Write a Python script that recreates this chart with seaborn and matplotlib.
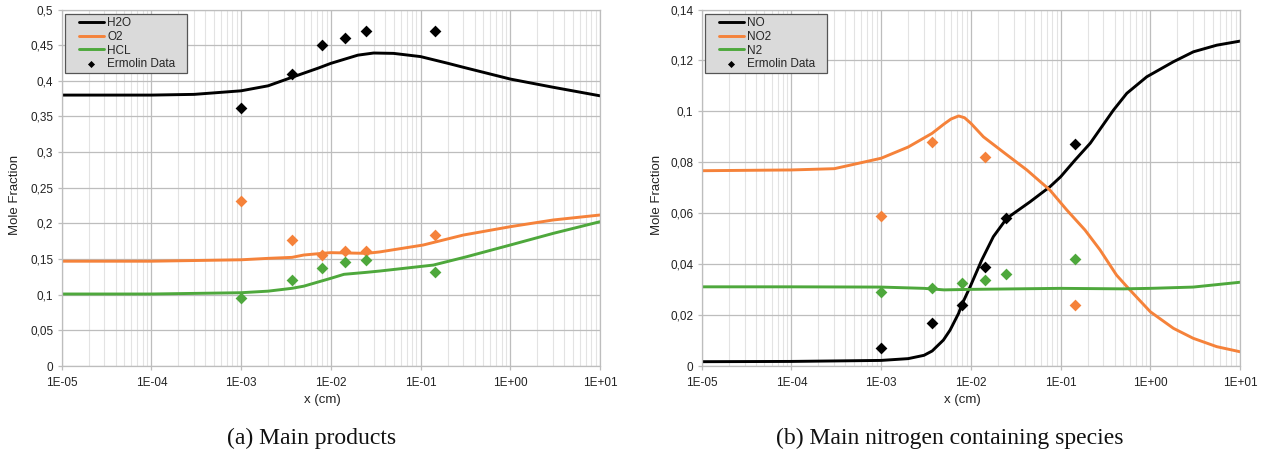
import matplotlib
matplotlib.use("Agg")
import matplotlib.pyplot as plt
import matplotlib.ticker as mticker
from matplotlib.patches import Rectangle
import seaborn as sns

# ---------------- data: panel (a) main products ----------------
x_h2o = [1e-5, 1e-4, 3e-4, 1e-3, 2e-3, 3.7e-3, 7.3e-3, 1e-2, 2e-2, 3e-2, 5e-2, 0.1, 0.2, 0.3, 1, 3, 10]
y_h2o = [0.380, 0.380, 0.381, 0.386, 0.393, 0.405, 0.418, 0.4245, 0.436, 0.439, 0.4385, 0.434, 0.4247, 0.419, 0.4025, 0.391, 0.379]

x_o2 = [1e-5, 1e-4, 1e-3, 2e-3, 3.7e-3, 5e-3, 8e-3, 1e-2, 2.5e-2, 3.5e-2, 0.107, 0.3, 1, 3, 10]
y_o2 = [0.147, 0.147, 0.149, 0.151, 0.1524, 0.1557, 0.158, 0.159, 0.158, 0.160, 0.1697, 0.1837, 0.1954, 0.2048, 0.2118]

x_hcl = [1e-5, 1e-4, 1e-3, 2e-3, 3.7e-3, 5e-3, 1e-2, 1.4e-2, 2.5e-2, 3.5e-2, 0.139, 0.327, 1, 3, 10]
y_hcl = [0.101, 0.101, 0.1028, 0.105, 0.109, 0.112, 0.123, 0.1286, 0.1314, 0.1332, 0.1416, 0.1533, 0.1697, 0.186, 0.2024]

x_exp_a = [1e-3, 3.7e-3, 8e-3, 1.45e-2, 2.45e-2, 0.145]
h2o_exp = [0.362, 0.410, 0.450, 0.460, 0.470, 0.470]
o2_exp = [0.232, 0.177, 0.156, 0.161, 0.161, 0.184]
hcl_exp = [0.096, 0.120, 0.138, 0.146, 0.149, 0.132]

# ---------------- data: panel (b) nitrogen species ----------------
x_no = [1e-5, 1e-4, 1e-3, 2e-3, 3e-3, 3.7e-3, 4.94e-3, 5.86e-3, 7.3e-3, 7.9e-3, 9.8e-3, 1.32e-2, 1.78e-2,
        2.51e-2, 4.57e-2, 7.6e-2, 0.1, 0.145, 0.214, 0.388, 0.547, 0.914, 1.81, 3.02, 5.5, 10]
y_no = [0.0017, 0.0018, 0.0022, 0.0029, 0.0042, 0.0059, 0.0102, 0.0141, 0.0207, 0.024, 0.0311, 0.0416, 0.0508,
        0.058, 0.0645, 0.0704, 0.0743, 0.0809, 0.0875, 0.1005, 0.1071, 0.1136, 0.1195, 0.1234, 0.126, 0.1276]

x_no2 = [1e-5, 1e-4, 3e-4, 1e-3, 2e-3, 3.7e-3, 5e-3, 6e-3, 7.3e-3, 8.5e-3, 1e-2, 1.38e-2, 2.4e-2, 4.2e-2,
         7.6e-2, 0.117, 0.187, 0.275, 0.42, 0.57, 1, 1.81, 3, 5.5, 10]
y_no2 = [0.0767, 0.077, 0.0775, 0.0816, 0.086, 0.0914, 0.095, 0.097, 0.0982, 0.0975, 0.0953, 0.090, 0.0835, 0.077,
         0.0691, 0.0613, 0.0534, 0.0456, 0.0357, 0.0305, 0.0213, 0.0148, 0.0109, 0.0076, 0.0056]

x_n2 = [1e-5, 1e-4, 1e-3, 3e-3, 5e-3, 1e-2, 0.1, 0.5, 1, 3, 10]
y_n2 = [0.0311, 0.0311, 0.031, 0.0305, 0.0299, 0.0301, 0.0305, 0.0303, 0.0305, 0.031, 0.0329]

x_no_exp = [1e-3, 3.7e-3, 8e-3, 1.45e-2, 2.45e-2, 0.145]
no_exp = [0.0071, 0.0168, 0.024, 0.0388, 0.058, 0.0871]
x_no2_exp = [1e-3, 3.7e-3, 1.45e-2, 0.145]
no2_exp = [0.0589, 0.088, 0.082, 0.0238]
x_n2_exp = [1e-3, 3.7e-3, 8e-3, 1.45e-2, 2.45e-2, 0.145]
n2_exp = [0.0289, 0.0305, 0.0325, 0.0337, 0.036, 0.0419]

xticks = [1e-5, 1e-4, 1e-3, 1e-2, 1e-1, 1e0, 1e1]
captions = ["(a) Main products", "(b) Main nitrogen containing species"]

BLACK = "#000000"
ORANGE = "#f5823a"
GREEN = "#4ea83c"

sns.set_theme(style="white")
plt.rcParams["font.family"] = ["Liberation Sans", "DejaVu Sans"]

fig = plt.figure(figsize=(12.66, 4.54), dpi=100)
ax1 = fig.add_axes([0.0487, 0.1938, 0.4252, 0.7852])
ax2 = fig.add_axes([0.5543, 0.1938, 0.4252, 0.7852])

LW = 2.1
MS = 36


def comma_fmt(v, pos):
    s = "{:g}".format(round(v, 6))
    return s.replace(".", ",")


def sci_fmt(v, pos):
    return "{:.0E}".format(v)


def style_axes(ax, ymax, ystep):
    ax.set_xscale("log")
    ax.set_xlim(1e-5, 10)
    ax.set_ylim(0, ymax)
    ax.set_xticks(xticks)
    ax.xaxis.set_major_formatter(mticker.FuncFormatter(sci_fmt))
    ax.xaxis.set_minor_locator(mticker.LogLocator(base=10, subs=range(2, 10), numticks=20))
    ax.xaxis.set_minor_formatter(mticker.NullFormatter())
    ax.yaxis.set_major_locator(mticker.MultipleLocator(ystep))
    ax.yaxis.set_major_formatter(mticker.FuncFormatter(comma_fmt))
    ax.grid(True, which="major", color="#bdbdbd", linewidth=0.9)
    ax.grid(True, which="minor", axis="x", color="#e3e3e3", linewidth=0.8)
    ax.set_axisbelow(True)
    for sp in ax.spines.values():
        sp.set_color("#bdbdbd")
        sp.set_linewidth(0.9)
    ax.tick_params(axis="both", which="major", length=3, width=0.9, color="#bdbdbd",
                   labelsize=8.5, labelcolor="#222222", direction="out")
    ax.tick_params(axis="x", which="major", pad=5, bottom=True)
    ax.tick_params(axis="y", which="major", pad=3, left=True)
    ax.tick_params(axis="x", which="minor", length=0, bottom=False)
    ax.set_xlabel("x (cm)", fontsize=9.5, color="#222222")
    ax.set_ylabel("Mole Fraction", fontsize=9.5, color="#222222")
    ax.xaxis.set_label_coords(0.485, -0.078)


# ---- panel (a)
sns.lineplot(x=x_h2o, y=y_h2o, ax=ax1, color=BLACK, linewidth=LW, label="H2O", sort=False)
sns.lineplot(x=x_o2, y=y_o2, ax=ax1, color=ORANGE, linewidth=LW, label="O2", sort=False)
sns.lineplot(x=x_hcl, y=y_hcl, ax=ax1, color=GREEN, linewidth=LW, label="HCL", sort=False)
sns.scatterplot(x=x_exp_a, y=h2o_exp, ax=ax1, color=BLACK, marker="D", s=MS, linewidth=0, label="Ermolin Data", zorder=5)
sns.scatterplot(x=x_exp_a, y=o2_exp, ax=ax1, color=ORANGE, marker="D", s=MS, linewidth=0, legend=False, zorder=5)
sns.scatterplot(x=x_exp_a, y=hcl_exp, ax=ax1, color=GREEN, marker="D", s=MS, linewidth=0, legend=False, zorder=5)
style_axes(ax1, 0.5, 0.05)
ax1.yaxis.set_label_coords(-0.0756, 0.48)

# ---- panel (b)
sns.lineplot(x=x_no, y=y_no, ax=ax2, color=BLACK, linewidth=LW, label="NO", sort=False)
sns.lineplot(x=x_no2, y=y_no2, ax=ax2, color=ORANGE, linewidth=LW, label="NO2", sort=False)
sns.lineplot(x=x_n2, y=y_n2, ax=ax2, color=GREEN, linewidth=LW, label="N2", sort=False)
sns.scatterplot(x=x_no_exp, y=no_exp, ax=ax2, color=BLACK, marker="D", s=MS, linewidth=0, label="Ermolin Data", zorder=5)
sns.scatterplot(x=x_no2_exp, y=no2_exp, ax=ax2, color=ORANGE, marker="D", s=MS, linewidth=0, legend=False, zorder=5)
sns.scatterplot(x=x_n2_exp, y=n2_exp, ax=ax2, color=GREEN, marker="D", s=MS, linewidth=0, legend=False, zorder=5)
style_axes(ax2, 0.14, 0.02)
ax2.yaxis.set_label_coords(-0.072, 0.48)

for ax in (ax1, ax2):
    # legend box (frame drawn separately to reproduce its wide side margins)
    ax.add_patch(Rectangle((0.0061, 0.8227), 0.2267, 0.1647, transform=ax.transAxes,
                           facecolor="#dadada", edgecolor="#555555", linewidth=0.9, zorder=6,
                           clip_on=False))
    leg = ax.legend(loc="upper left", bbox_to_anchor=(0.0321, 0.9785), borderaxespad=0,
                    fontsize=8.5, frameon=False, handlelength=2.1,
                    handletextpad=0.3, labelspacing=0.14, borderpad=0, markerscale=0.6)
    leg.set_zorder(7)

cap_font = ["Liberation Serif", "DejaVu Serif"]
fig.text(311.5 / 1266, 1 - 438 / 454, captions[0], ha="center", va="center",
         fontsize=17, family=cap_font, color="#111111")
fig.text(950 / 1266, 1 - 438 / 454, captions[1], ha="center", va="center",
         fontsize=17, family=cap_font, color="#111111")

fig.savefig("out.png", dpi=100)
